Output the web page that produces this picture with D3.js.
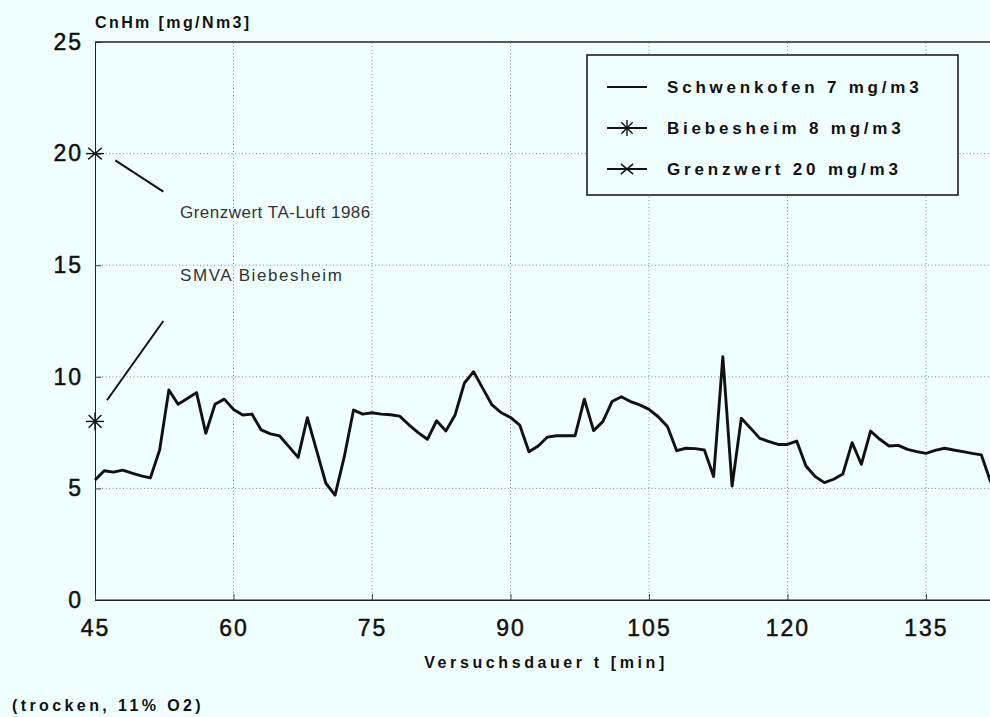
<!DOCTYPE html>
<html>
<head>
<meta charset="utf-8">
<script src="https://cdn.jsdelivr.net/npm/d3@7"></script>
<style>
    body { margin: 0; background: #f0ffff; }
    svg { display: block; font-family: "Liberation Sans", Arial, sans-serif; }
</style>
</head>
<body>
<div id="chart"></div>
<script>
// Data
const minutes = d3.range(45, 143);
const schwenkofen = [
    5.38, 5.79, 5.73, 5.82, 5.68, 5.56, 5.47, 6.72, 9.41, 8.77,
    9.03, 9.29, 7.47, 8.77, 9.0, 8.54, 8.29, 8.33, 7.62, 7.44,
    7.35, 6.87, 6.39, 8.17, 6.7, 5.23, 4.7, 6.42, 8.51, 8.33,
    8.39, 8.33, 8.3, 8.24, 7.85, 7.5, 7.2, 8.03, 7.57, 8.29,
    9.71, 10.23, 9.48, 8.74, 8.39, 8.18, 7.84, 6.64, 6.9, 7.3,
    7.36, 7.36, 7.36, 9.0, 7.59, 7.99, 8.89, 9.11, 8.89, 8.74,
    8.54, 8.21, 7.77, 6.69, 6.8, 6.78, 6.72, 5.53, 10.9, 5.1,
    8.14, 7.7, 7.24, 7.1, 6.97, 6.97, 7.12, 6.0, 5.53, 5.26,
    5.41, 5.65, 7.05, 6.08, 7.57, 7.2, 6.9, 6.93, 6.75, 6.65,
    6.57, 6.7, 6.8, 6.72, 6.65, 6.57, 6.5, 5.3
];
const biebesheim = [{ t: 45, v: 8 }];
const grenzwert = [{ t: 45, v: 20 }];
const legendLabels = ["Schwenkofen 7 mg/m3", "Biebesheim 8 mg/m3", "Grenzwert 20 mg/m3"];
const xTicks = [45, 60, 75, 90, 105, 120, 135];
const yTicks = [0, 5, 10, 15, 20, 25];

// annotations in data units: leader line start/end and text anchor
const notes = [
    { text: "Grenzwert TA-Luft 1986", x1: 47.2, y1: 19.7, x2: 52.4, y2: 18.3, tx: 54.2, ty: 17.1, sp: 0.5 },
    { text: "SMVA Biebesheim", x1: 46.3, y1: 8.95, x2: 52.4, y2: 12.5, tx: 54.2, ty: 14.3, sp: 1.6 }
];

const width = 990, height = 717;
const margin = { top: 42, left: 95, bottom: 117 };

const svg = d3.select("#chart")
    .append("svg")
    .attr("width", width)
    .attr("height", height);

svg.append("rect").attr("width", width).attr("height", height).attr("fill", "#f0ffff");

// plot continues past the right edge of the scan
const x = d3.scaleLinear().domain([45, 150]).range([margin.left, margin.left + 105 * 9.233]);
const y = d3.scaleLinear().domain([0, 25]).range([height - margin.bottom, margin.top]);

// grid
svg.append("g")
    .selectAll("line")
    .data(xTicks.slice(1))
    .enter()
    .append("line")
    .attr("x1", d => x(d)).attr("x2", d => x(d))
    .attr("y1", y(0)).attr("y2", y(25))
    .attr("stroke", "#888")
    .attr("stroke-dasharray", "1 2.5");

svg.append("g")
    .selectAll("line")
    .data(yTicks.slice(1, -1))
    .enter()
    .append("line")
    .attr("x1", x(45)).attr("x2", width)
    .attr("y1", d => y(d)).attr("y2", d => y(d))
    .attr("stroke", "#888")
    .attr("stroke-dasharray", "1 2.5");

// frame
svg.append("line").attr("x1", x(45)).attr("x2", width).attr("y1", y(25)).attr("y2", y(25))
    .attr("stroke", "#222").attr("stroke-width", 1.5);
svg.append("line").attr("x1", x(45)).attr("x2", width).attr("y1", y(0)).attr("y2", y(0))
    .attr("stroke", "#222").attr("stroke-width", 1.2);

// axes
const yAxis = svg.append("g")
    .attr("transform", `translate(${x(45)},0)`)
    .call(d3.axisLeft(y).tickValues(yTicks).tickSize(-6).tickPadding(12));
const xAxis = svg.append("g")
    .attr("transform", `translate(0,${y(0)})`)
    .call(d3.axisBottom(x).tickValues(xTicks).tickSize(-6).tickPadding(20));

[xAxis, yAxis].forEach(g => {
    g.select(".domain").attr("stroke", "#222");
    g.selectAll(".tick line").attr("stroke", "#444");
    g.selectAll("text")
        .attr("font-size", 23)
        .attr("letter-spacing", 2)
        .attr("fill", "#111")
        .attr("stroke", "#111")
        .attr("stroke-width", 0.5)
        .attr("font-family", "Liberation Sans, Arial, sans-serif");
});
yAxis.selectAll(".tick").filter(d => d === 25 || d === 0).select("line").remove();

// line
const line = d3.line()
    .x((d, i) => x(minutes[i]))
    .y(d => y(d));

svg.append("path")
    .datum(schwenkofen)
    .attr("fill", "none")
    .attr("stroke", "#111")
    .attr("stroke-width", 2.9)
    .attr("stroke-linejoin", "round")
    .attr("d", line);

// asterisk markers
function star(g, cx, cy, r, angles) {
    angles.forEach(a => {
        const rad = a * Math.PI / 180;
        g.append("line")
            .attr("x1", cx - r * Math.cos(rad)).attr("y1", cy - r * Math.sin(rad))
            .attr("x2", cx + r * Math.cos(rad)).attr("y2", cy + r * Math.sin(rad))
            .attr("stroke", "#111").attr("stroke-width", 1.4);
    });
}
const markers = svg.append("g");
biebesheim.forEach(d => star(markers, x(d.t), y(d.v), 9, [0, 45, 90, 135]));
grenzwert.forEach(d => star(markers, x(d.t), y(d.v), 9, [0, 40, 140]));

// annotations
notes.forEach(n => {
    svg.append("line")
        .attr("x1", x(n.x1)).attr("y1", y(n.y1))
        .attr("x2", x(n.x2)).attr("y2", y(n.y2))
        .attr("stroke", "#111").attr("stroke-width", 2);
    svg.append("text")
        .attr("x", x(n.tx)).attr("y", y(n.ty))
        .attr("font-size", 17)
        .attr("letter-spacing", n.sp)
        .attr("fill", "#333")
        .text(n.text);
});

// legend
const legend = svg.append("g");
legend.append("rect")
    .attr("x", 587).attr("y", 55)
    .attr("width", 371).attr("height", 140)
    .attr("fill", "#f0ffff")
    .attr("stroke", "#111").attr("stroke-width", 1.5);

legendLabels.forEach((label, i) => {
    const ly = 87 + i * 41;
    legend.append("line")
        .attr("x1", 607).attr("x2", 647).attr("y1", ly).attr("y2", ly)
        .attr("stroke", "#111").attr("stroke-width", 2);
    if (i === 1) star(legend, 627, ly, 8, [0, 45, 90, 135]);
    if (i === 2) star(legend, 627, ly, 8, [0, 40, 140]);
    legend.append("text")
        .attr("x", 667).attr("y", ly + 6)
        .attr("font-size", 17)
        .attr("font-weight", "bold")
        .attr("letter-spacing", 3.8)
        .attr("fill", "#111")
        .text(label);
});

// titles
svg.append("text")
    .attr("x", 95).attr("y", 28)
    .attr("font-size", 16).attr("font-weight", "bold")
    .attr("letter-spacing", 2.4).attr("fill", "#111")
    .text("CnHm [mg/Nm3]");

svg.append("text")
    .attr("x", 546).attr("y", 668)
    .attr("text-anchor", "middle")
    .attr("font-size", 16).attr("font-weight", "bold")
    .attr("letter-spacing", 3.6).attr("fill", "#111")
    .text("Versuchsdauer t [min]");

svg.append("text")
    .attr("x", 12).attr("y", 711)
    .attr("font-size", 16).attr("font-weight", "bold")
    .attr("letter-spacing", 3.4).attr("fill", "#111")
    .text("(trocken, 11% O2)");
</script>
</body>
</html>
